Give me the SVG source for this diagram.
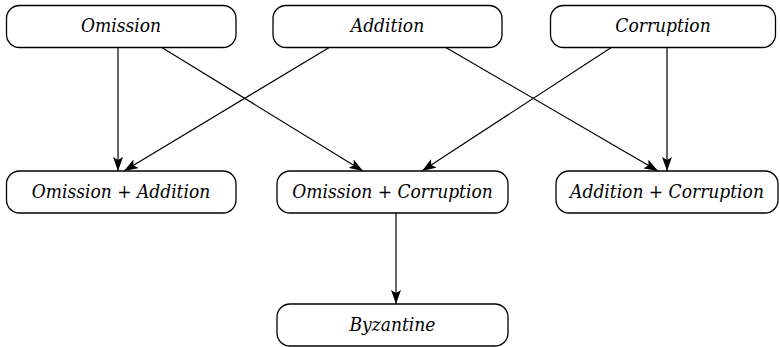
<svg xmlns="http://www.w3.org/2000/svg" width="780" height="347" viewBox="0 0 780 347">
<style>
.box{fill:#fff;stroke:#000;stroke-width:1.3}
text{font-family:'DejaVu Serif Condensed','DejaVu Serif',serif;font-stretch:condensed;font-style:italic;font-size:19px;text-anchor:middle;fill:#000}
.edge{stroke:#000;stroke-width:1.2;fill:none;marker-end:url(#ah)}
</style>
<defs>
<marker id="ah" viewBox="0 0 14 10" refX="14" refY="5" markerWidth="14" markerHeight="10" markerUnits="userSpaceOnUse" orient="auto">
<path d="M0,0 L14,5 L0,10 L3,5 Z" fill="#000"/>
</marker>
</defs>
<g id="connectors">
<line class="edge" x1="118" y1="47" x2="118" y2="171"/>
<line class="edge" x1="161" y1="47" x2="363" y2="171"/>
<line class="edge" x1="330" y1="47" x2="124" y2="171"/>
<line class="edge" x1="445" y1="47" x2="658" y2="171"/>
<line class="edge" x1="612" y1="47" x2="422" y2="171"/>
<line class="edge" x1="667" y1="47" x2="667" y2="171"/>
<line class="edge" x1="396" y1="213" x2="396" y2="304"/>
</g>
<g id="omission">
<rect class="box" x="6.5" y="5.5" width="229.5" height="42" rx="13"/>
<text x="121" y="32">Omission</text>
</g>
<g id="addition">
<rect class="box" x="273" y="5.5" width="229" height="42" rx="13"/>
<text x="387.5" y="32">Addition</text>
</g>
<g id="corruption">
<rect class="box" x="550.5" y="5.5" width="225" height="42" rx="13"/>
<text x="663" y="32">Corruption</text>
</g>
<g id="omission-addition">
<rect class="box" x="6.5" y="171" width="229.5" height="42" rx="13"/>
<text x="121" y="197.5">Omission + Addition</text>
</g>
<g id="omission-corruption">
<rect class="box" x="277" y="171" width="231" height="42" rx="13"/>
<text x="392.5" y="197.5">Omission + Corruption</text>
</g>
<g id="addition-corruption">
<rect class="box" x="556" y="171" width="222" height="42" rx="13"/>
<text x="667" y="197.5">Addition + Corruption</text>
</g>
<g id="byzantine">
<rect class="box" x="277" y="304" width="231" height="42" rx="13"/>
<text x="392.5" y="330.5">Byzantine</text>
</g>
</svg>
